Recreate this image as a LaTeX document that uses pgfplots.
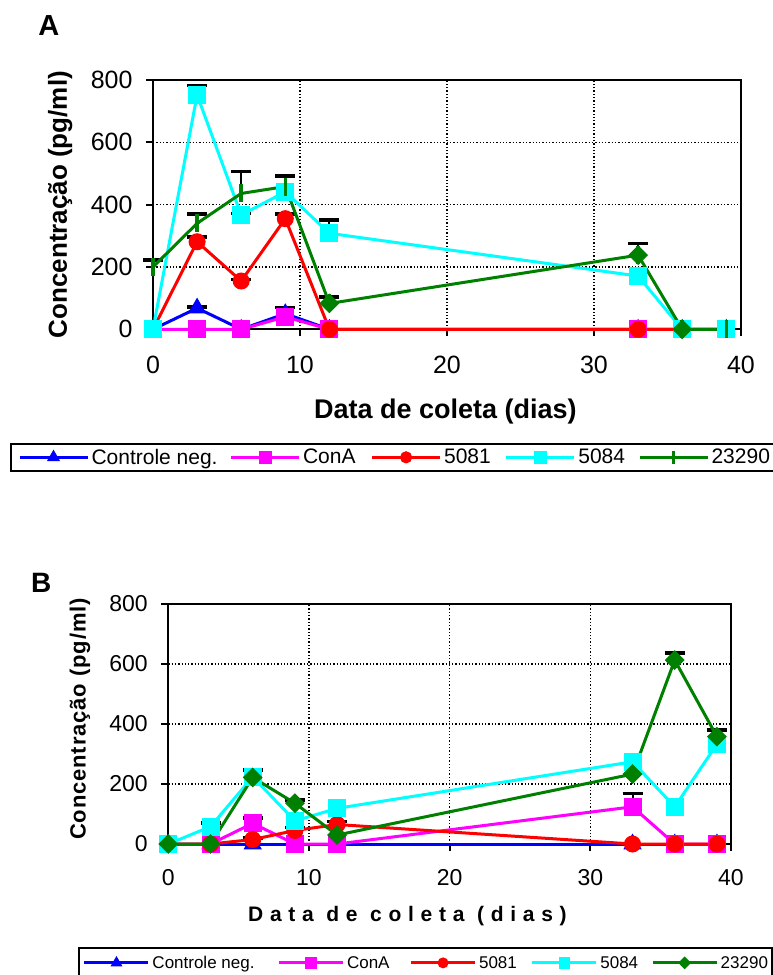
\documentclass[border=0pt]{standalone}
\usepackage{pgfplots}
\pgfplotsset{compat=1.18}
\usepackage{fontspec}
\setmainfont{Liberation Sans}
\definecolor{cblue}{RGB}{0,0,255}
\definecolor{cmag}{RGB}{255,0,255}
\definecolor{cred}{RGB}{255,0,0}
\definecolor{ccyan}{RGB}{0,255,255}
\definecolor{cgreen}{RGB}{0,128,0}
\pgfplotsset{
 mybase/.style={
  scale only axis, clip=false,
  xmin=0,xmax=40,ymin=0,ymax=800,
  xtick={0,10,20,30,40}, ytick={0,200,400,600,800},
  tick pos=left, tick align=outside, major tick length=7pt,
  axis line style={line width=2pt},
  tick style={black, line width=2pt},
  grid=major, major grid style={black, line width=1.3pt, dash pattern=on 1.3pt off 2pt},
  /pgf/number format/assume math mode=true,
 },
 errb/.style={forget plot, only marks, mark=none,
  error bars/.cd, y dir=plus, y explicit,
  error bar style={black, line width=2pt},
  error mark=-,
  error mark options={black, rotate=90, line width=3.5pt, mark size=10pt}},
 sblue/.style={cblue, line width=3pt, mark=triangle*, mark size=9.5pt, mark options={solid, line width=1pt, fill=cblue}},
 smag/.style={cmag, line width=3pt, mark=square*, mark size=8.5pt, mark options={solid, line width=1pt, fill=cmag}},
 sred/.style={cred, line width=3pt, mark=*, mark size=8pt, mark options={solid, line width=1pt, fill=cred}},
 scyan/.style={ccyan, line width=3pt, mark=square*, mark size=8.5pt, mark options={solid, line width=1pt, fill=ccyan}},
 sgreen/.style={cgreen, line width=3pt, mark=square*, mark size=6.5pt, mark options={solid, rotate=45, line width=1pt, fill=cgreen}},
}
\begin{document}
\begin{tikzpicture}
%%%%%%%%%%%%%%%%%%%% Panel A
\begin{axis}[mybase, at={(153pt,-329.3pt)}, anchor=south west, width=588pt, height=249.3pt,
 ticklabel style={font=\fontsize{25}{30}\selectfont},
 xticklabel style={yshift=-16pt},
 yticklabel style={xshift=-10pt},
 xlabel={Data de coleta (dias)},
 xlabel style={font=\fontsize{27}{32}\selectfont\bfseries, at={(axis description cs:0.4974,-0.33)}, anchor=center},
 ylabel={Concentração (pg/ml)},
 ylabel style={font=\fontsize{26}{31}\selectfont\bfseries, at={(axis description cs:-0.158,0.5)}, anchor=center},
 title={A},
 title style={font=\fontsize{29}{34}\selectfont\bfseries, at={(axis description cs:-0.177,1.1925)}, anchor=center},
 legend columns=5,
 legend image code/.code={\draw[mark repeat=2,mark phase=2,every mark/.append style={scale=0.7}] plot coordinates {(0pt,0pt) (34pt,0pt) (68pt,0pt)};},
 legend style={at={(axis description cs:-0.2432,-0.456)}, anchor=north west, draw=black, line width=2pt,
   font=\fontsize{21}{25}\selectfont, inner xsep=7pt, inner ysep=5pt, nodes={inner sep=0pt},
   /tikz/every odd column/.style={column sep=2.5pt},
   /tikz/column 2/.style={column sep=12pt}, /tikz/column 4/.style={column sep=15pt},
   /tikz/column 6/.style={column sep=14pt}, /tikz/column 8/.style={column sep=13pt}},
]
% error bars (upper only)
\addplot[errb] coordinates {(3,68) +- (0,4) (9,50) +- (0,20)};
\addplot[errb] coordinates {(3,281) +- (0,16) (6,155) +- (0,5) (9,355) +- (0,15)};
\addplot[errb] coordinates {(3,752) +- (0,30) (6,367) +- (0,5) (12,308) +- (0,43)};
\addplot[errb] coordinates {(0,200) +- (0,22) (3,340) +- (0,30) (6,436) +- (0,70) (9,458) +- (0,34) (12,83) +- (0,20) (33,238) +- (0,38)};
% series
\addplot[sblue] coordinates {(0,0) (3,68) (6,0) (9,50) (12,0) (33,0) (36,0) (39,0)};
\addlegendentry{Controle neg.}
\addplot[smag] coordinates {(0,0) (3,0) (6,0) (9,40) (12,0) (33,0) (36,0) (39,0)};
\addlegendentry{ConA}
\addplot[sred] coordinates {(0,0) (3,281) (6,155) (9,355) (12,0) (33,0) (36,0) (39,0)};
\addlegendentry{5081}
\addplot[scyan] coordinates {(0,0) (3,752) (6,367) (9,441) (12,308) (33,171) (36,0) (39,0)};
\addlegendentry{5084}
\addplot[cgreen, line width=3pt, mark=|, mark size=9pt, mark options={solid, line width=3.5pt}] coordinates {(0,200) (3,340) (6,436) (9,458) (12,83) (33,238) (36,0) (39,0)};
\addlegendentry{23290\hspace{12pt}}
\addplot[sgreen, only marks, forget plot] coordinates {(12,83) (33,238) (36,0)};
\end{axis}
%%%%%%%%%%%%%%%%%%%% Panel B
\begin{axis}[mybase, at={(168.3pt,-844pt)}, anchor=south west, width=562.7pt, height=240pt,
 ticklabel style={font=\fontsize{23}{28}\selectfont},
 xticklabel style={yshift=-15pt},
 yticklabel style={xshift=-10pt},
 xlabel={\addfontfeatures{LetterSpace=32}Data de coleta (dias)},
 xlabel style={font=\fontsize{21}{25}\selectfont\bfseries, at={(axis description cs:0.425,-0.30)}, anchor=center},
 ylabel={\addfontfeatures{LetterSpace=4}Concentração (pg/ml)},
 ylabel style={font=\fontsize{22}{26}\selectfont\bfseries, at={(axis description cs:-0.157,0.521)}, anchor=center},
 title={B},
 title style={font=\fontsize{28}{33}\selectfont\bfseries, at={(axis description cs:-0.226,1.0625)}, anchor=center},
 legend columns=5,
 legend image code/.code={\draw[mark repeat=2,mark phase=2,every mark/.append style={scale=0.62}] plot coordinates {(0pt,0pt) (32pt,0pt) (64pt,0pt)};},
 legend style={at={(axis description cs:-0.1605,-0.429)}, anchor=north west, draw=black, line width=2pt,
   font=\fontsize{17}{21}\selectfont, inner xsep=4pt, inner ysep=8pt, nodes={inner sep=0pt},
   /tikz/every odd column/.style={column sep=2.5pt},
   /tikz/column 2/.style={column sep=23pt}, /tikz/column 4/.style={column sep=20pt},
   /tikz/column 6/.style={column sep=14pt}, /tikz/column 8/.style={column sep=13pt}},
]
\addplot[errb] coordinates {(6,69) +- (0,17) (33,124) +- (0,45)};
\addplot[errb] coordinates {(6,15) +- (0,5) (9,45) +- (0,10) (12,65) +- (0,10)};
\addplot[errb] coordinates {(3,58) +- (0,12)};
\addplot[errb] coordinates {(6,222) +- (0,25) (9,136) +- (0,11) (36,613) +- (0,23) (39,358) +- (0,22)};
\addplot[sblue] coordinates {(0,0) (3,0) (6,0) (9,0) (12,0) (33,0) (36,0) (39,0)};
\addlegendentry{Controle neg.}
\addplot[smag] coordinates {(0,0) (3,0) (6,69) (9,0) (12,0) (33,124) (36,0) (39,0)};
\addlegendentry{ConA}
\addplot[sred] coordinates {(0,0) (3,0) (6,15) (9,45) (12,65) (33,0) (36,0) (39,0)};
\addlegendentry{5081}
\addplot[scyan] coordinates {(0,0) (3,58) (6,224) (9,77) (12,119) (33,274) (36,124) (39,333)};
\addlegendentry{5084}
\addplot[sgreen] coordinates {(0,0) (3,0) (6,222) (9,136) (12,30) (33,233) (36,613) (39,358)};
\addlegendentry{23290\hspace{12pt}}
\end{axis}
\pgfresetboundingbox
\path[use as bounding box] (0pt,0pt) rectangle (773pt,-975pt);
\end{tikzpicture}
\end{document}
